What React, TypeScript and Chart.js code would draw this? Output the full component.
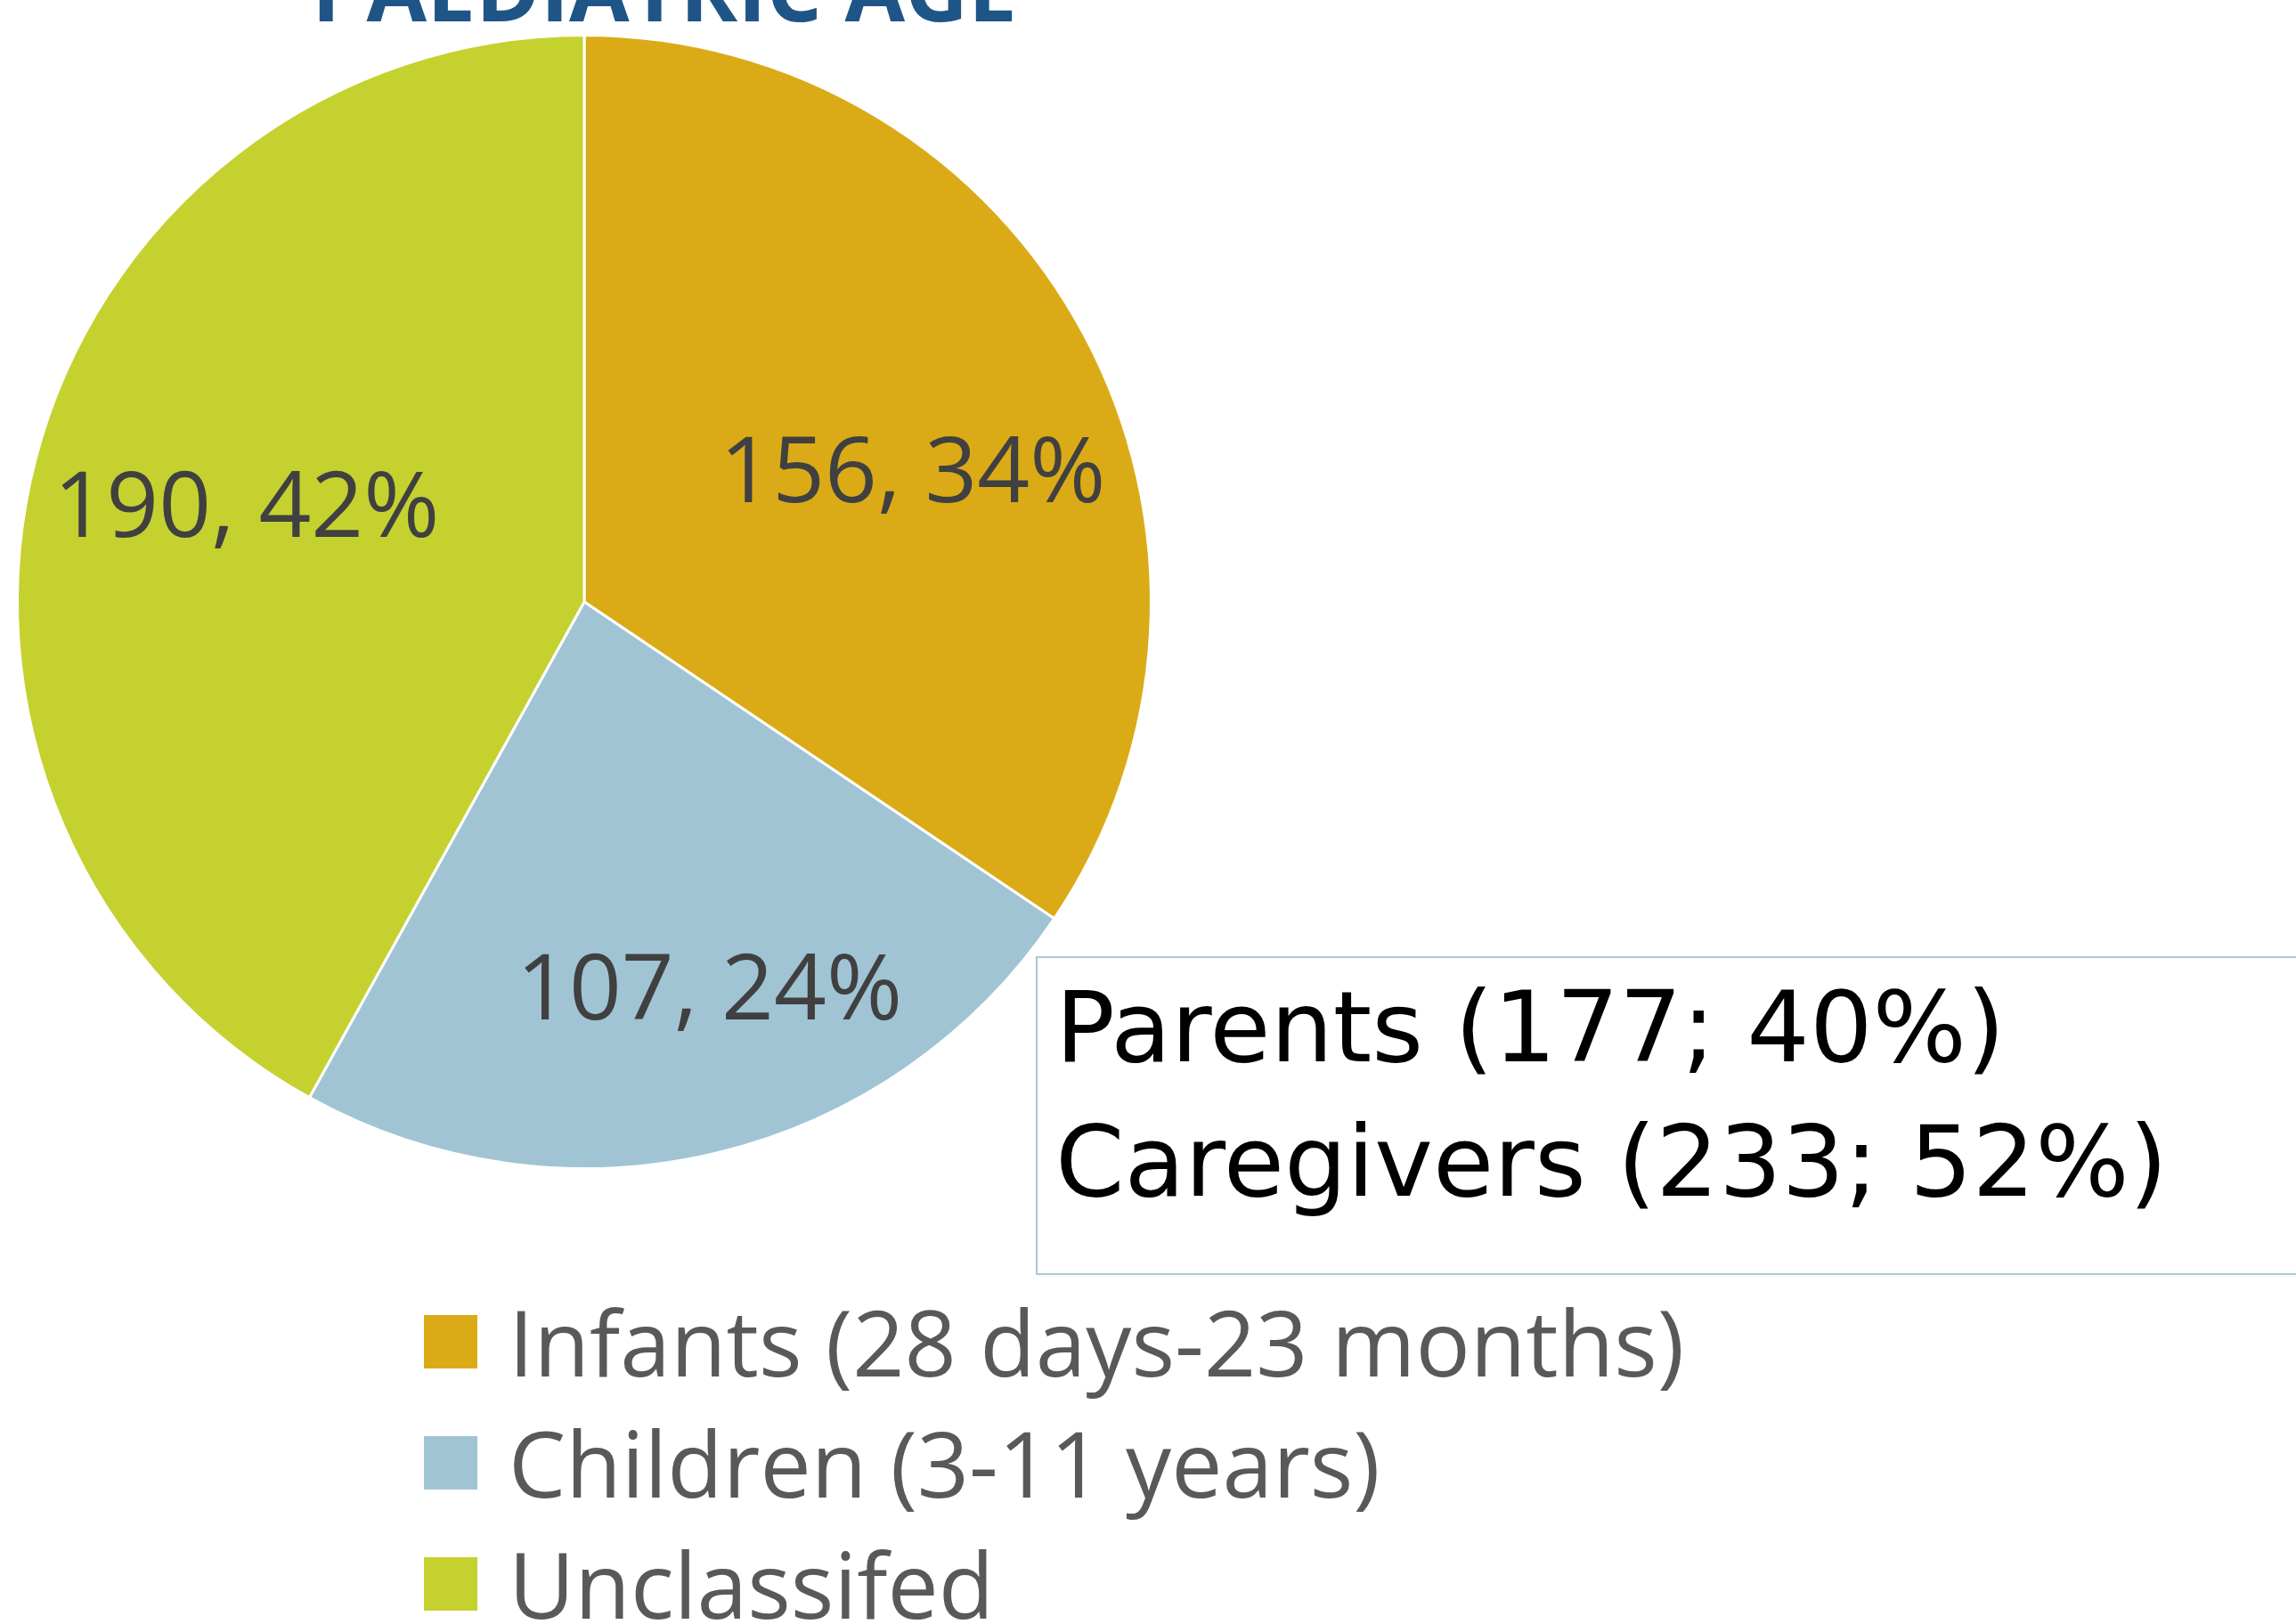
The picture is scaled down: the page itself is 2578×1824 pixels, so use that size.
import React, { useEffect, useRef } from "react";
import { Chart, registerables } from "chart.js";

Chart.register(...registerables);

// ---- Data ----
const TITLE = "PAEDIATRIC AGE";
const categories = ["Infants (28 days-23 months)", "Children (3-11 years)", "Unclassifed"];
const counts = [156, 107, 190];
const sliceColors = ["#DAAB17", "#A0C4D4", "#C5D12F"];
const respondentGroups = ["Parents", "Caregivers"];
const respondentCounts = [177, 233];
const respondentPercents = [40, 52];

// ---- Style / layout ----
const W = 2578;
const H = 1824;
const LABEL_FONT = "'Open Sans', 'DejaVu Sans', sans-serif";
// per-slice label placement: [angle nudge (deg), radius fraction]
const LABEL_PLACEMENT: [number, number][] = [
  [6, 0.625],
  [-4.5, 0.714],
  [1.6, 0.62],
];

const overlayPlugin = {
  id: "overlay",
  afterDraw(chart: any) {
    const ctx = chart.ctx as CanvasRenderingContext2D;
    const ds = chart.data.datasets[0];
    const values = ds.data as number[];
    const total = values.reduce((a, b) => a + b, 0);
    const meta = chart.getDatasetMeta(0);

    ctx.save();
    // Title (cut off at top like reference)
    ctx.font = `bold 98px ${LABEL_FONT}`;
    ctx.fillStyle = "#1F5586";
    ctx.textAlign = "center";
    ctx.textBaseline = "alphabetic";
    ctx.fillText(TITLE, 746, 24);

    // Data labels
    const lf = 103;
    ctx.font = `${lf}px ${LABEL_FONT}`;
    ctx.fillStyle = "#404040";
    meta.data.forEach((arc: any, i: number) => {
      const p = arc.getProps(["x", "y", "startAngle", "endAngle", "outerRadius"], true);
      const [nudge, frac] = LABEL_PLACEMENT[i];
      const mid = (p.startAngle + p.endAngle) / 2 + (nudge * Math.PI) / 180;
      const r = p.outerRadius * frac;
      const cx = p.x + Math.cos(mid) * r;
      const cy = p.y + Math.sin(mid) * r;
      const pct = Math.round((values[i] / total) * 100);
      ctx.fillText(`${values[i]}, ${pct}%`, cx, cy + 0.357 * lf);
    });

    // Text box
    ctx.strokeStyle = "#A9C9D7";
    ctx.lineWidth = 2;
    ctx.strokeRect(1164, 1075, 1500, 356);
    ctx.font = `111px 'DejaVu Sans', Verdana, sans-serif`;
    ctx.fillStyle = "#000000";
    ctx.textAlign = "left";
    respondentGroups.forEach((g, i) => {
      ctx.fillText(`${g} (${respondentCounts[i]}; ${respondentPercents[i]}%)`, 1185, 1192 + i * 151);
    });

    // Legend
    ctx.font = `102px ${LABEL_FONT}`;
    (chart.data.labels as string[]).forEach((lab, i) => {
      const top = 1477 + i * 136;
      ctx.fillStyle = (ds.backgroundColor as string[])[i];
      ctx.fillRect(476, top, 60, 60);
      ctx.fillStyle = "#595959";
      ctx.fillText(lab, 571, 1546 + i * 136);
    });
    ctx.restore();
  },
};

export default function App() {
  const ref = useRef<HTMLCanvasElement | null>(null);
  useEffect(() => {
    if (!ref.current) return;
    const chart = new Chart(ref.current, {
      type: "pie",
      data: {
        labels: categories,
        datasets: [
          {
            data: counts,
            backgroundColor: sliceColors,
            borderColor: "#FFFFFF",
            borderWidth: 3,
            hoverOffset: 0,
            offset: 0,
          },
        ],
      },
      options: {
        responsive: false,
        devicePixelRatio: 1,
        animation: false,
        layout: {
          padding: { left: 18, top: 38, right: W - (656 + 638), bottom: H - (676 + 638) },
        },
        plugins: {
          legend: { display: false },
          tooltip: { enabled: false },
          title: { display: false },
        },
      },
      plugins: [overlayPlugin],
    });
    return () => chart.destroy();
  }, []);
  return (
    <div style={{ position: "fixed", left: 0, top: 0, width: W, height: H, background: "#FFFFFF" }}>
      <canvas ref={ref} width={W} height={H} style={{ display: "block", width: W, height: H }} />
    </div>
  );
}
